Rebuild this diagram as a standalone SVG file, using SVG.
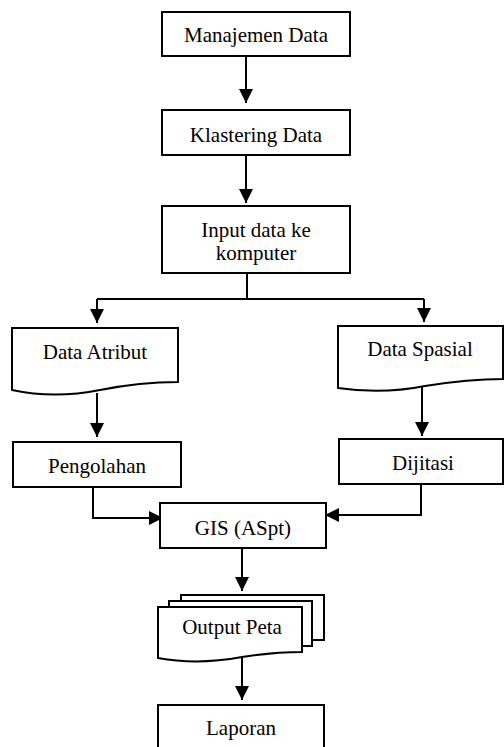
<svg xmlns="http://www.w3.org/2000/svg" width="504" height="747" viewBox="0 0 504 747">
<style>
.box{fill:#fff;stroke:#000;stroke-width:2}
.t{font-family:"Liberation Serif","Times New Roman",serif;font-size:21px;fill:#000;text-anchor:middle}
.c{fill:none;stroke:#000;stroke-width:2}
</style>
<defs>
<marker id="ah" markerUnits="userSpaceOnUse" viewBox="0 0 14 14" refX="14" refY="7" markerWidth="14" markerHeight="14" orient="auto">
<path d="M0,0 L14,7 L0,14 Z" fill="#000"/>
</marker>
</defs>
<rect width="504" height="747" fill="#fff"/>
<g id="connectors">
<path class="c" d="M246,56 V103" marker-end="url(#ah)"/>
<path class="c" d="M246,155 V203" marker-end="url(#ah)"/>
<path class="c" d="M247,273 V299 M97,299 H424"/>
<path class="c" d="M97,299 V323" marker-end="url(#ah)"/>
<path class="c" d="M424,299 V322" marker-end="url(#ah)"/>
<path class="c" d="M97,393 V437" marker-end="url(#ah)"/>
<path class="c" d="M422,385 V436" marker-end="url(#ah)"/>
<path class="c" d="M93,487 V518 H163" marker-end="url(#ah)"/>
<path class="c" d="M421,484 V515 H325" marker-end="url(#ah)"/>
<path class="c" d="M242,548 V591" marker-end="url(#ah)"/>
<path class="c" d="M242,657 V700" marker-end="url(#ah)"/>
</g>
<g id="manajemen">
<rect class="box" x="162" y="12" width="188" height="44"/>
<text class="t" x="256" y="42">Manajemen Data</text>
</g>
<g id="klastering">
<rect class="box" x="162" y="110" width="188" height="45"/>
<text class="t" x="256" y="142">Klastering Data</text>
</g>
<g id="input">
<rect class="box" x="162" y="206" width="188" height="67"/>
<text class="t" x="256" y="237">Input data ke</text>
<text class="t" x="256" y="260">komputer</text>
</g>
<g id="atribut">
<path class="box" d="M12,328 H178 V382 C150,382 125,385 100,390 C70,396 40,396 12,390 Z"/>
<text class="t" x="95" y="359">Data Atribut</text>
</g>
<g id="spasial">
<path class="box" d="M338,326 H503 V379 C475,379 450,382 425,386 C395,392 365,392 338,388 Z"/>
<text class="t" x="420" y="356">Data Spasial</text>
</g>
<g id="pengolahan">
<rect class="box" x="13" y="442" width="168" height="45"/>
<text class="t" x="97" y="473">Pengolahan</text>
</g>
<g id="dijitasi">
<rect class="box" x="339" y="439" width="164" height="45"/>
<text class="t" x="423" y="470">Dijitasi</text>
</g>
<g id="gis">
<rect class="box" x="160" y="503" width="166" height="45"/>
<text class="t" x="243" y="535">GIS (ASpt)</text>
</g>
<g id="output">
<path class="box" d="M181,601 V595 H324 V640 H312"/>
<path class="box" d="M169,607 V601 H312 V646 H302"/>
<path class="box" d="M158,607 H302 V652 C280,652 262,654 242,657 C215,662 185,663 158,658 Z"/>
<text class="t" x="232" y="634">Output Peta</text>
</g>
<g id="laporan">
<rect class="box" x="158" y="705" width="166" height="60"/>
<text class="t" x="241" y="735">Laporan</text>
</g>
</svg>
